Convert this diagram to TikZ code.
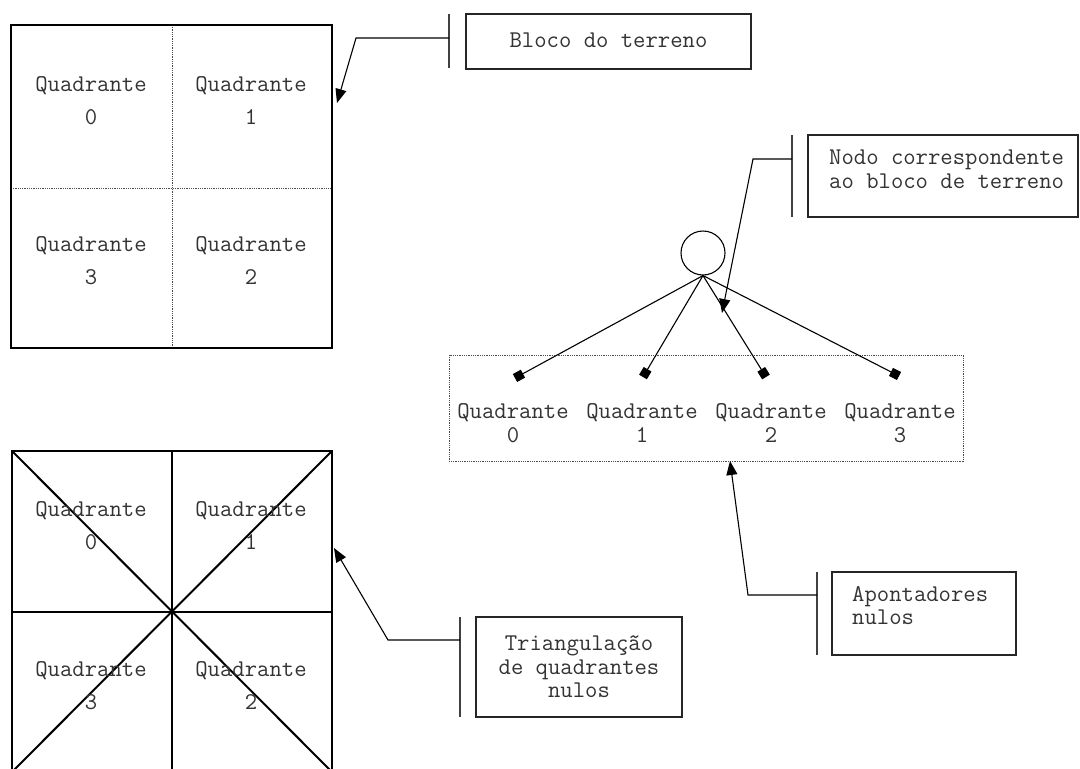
\documentclass[tikz,border=0pt]{standalone}
\usepackage{fontspec}
\usetikzlibrary{arrows.meta}
\begin{document}
\begin{tikzpicture}[x=1pt,y=-1pt,
  font=\ttfamily\fontsize{24}{23.5}\selectfont,
  every node/.style={text=black!80},
  quadlabel/.style={align=center,inner sep=0pt,font=\ttfamily\fontsize{24}{33}\selectfont},
  callout/.style={draw=black!85,line width=1.2pt,inner sep=0pt},
  calloutbar/.style={draw=black!75,line width=1.6pt},
  leader/.style={line width=1.1pt,-{Triangle[length=14pt,width=11pt]}},
  pointer/.style={line width=1.1pt,-{Square[length=9pt,width=9pt]}},
  thinsep/.style={line width=1pt,draw=black!70,dash pattern=on 1pt off 0.8pt},
]
\useasboundingbox (0,0) rectangle (1080,769);

% ---- terrain block split into four quadrants ----
\draw[thinsep] (172,25) -- (172,348);
\draw[thinsep] (11,188) -- (332,188);
\draw[line width=2.6pt] (11,25) rectangle (332,348);
\node[quadlabel] (qa0) at (91,101) {Quadrante\\0};
\node[quadlabel] (qa1) at (251,101) {Quadrante\\1};
\node[quadlabel] (qa3) at (91,261) {Quadrante\\3};
\node[quadlabel] (qa2) at (251,261) {Quadrante\\2};
\coordinate (blocktip) at (337,103);

% ---- callout: terrain block ----
\node[callout,minimum width=285pt,minimum height=55pt] (bloco) at (608.5,41.5) {\raisebox{2pt}{Bloco do terreno}};
\draw[calloutbar] (449,14) -- (449,68);
\coordinate (blocobend) at (356,38);
\draw[leader] (449,38) -- (blocobend) -- (blocktip);

% ---- quadtree node with its four children ----
\node[circle,draw,line width=1.1pt,minimum size=44pt,inner sep=0pt] (root) at (703,253) {};
\draw[thinsep] (449,355) rectangle (963,461);
\coordinate (p0) at (515,378);
\coordinate (p1) at (643,377);
\coordinate (p2) at (766,377);
\coordinate (p3) at (899,376);
\foreach \p in {p0,p1,p2,p3}
  \draw[pointer] (root.south) -- (\p);
\node[align=center,inner sep=0pt] (c0) at (513,423) {Quadrante\\0};
\node[align=center,inner sep=0pt] (c1) at (642,423) {Quadrante\\1};
\node[align=center,inner sep=0pt] (c2) at (771,423) {Quadrante\\2};
\node[align=center,inner sep=0pt] (c3) at (900,423) {Quadrante\\3};

% ---- callout: node of the terrain block ----
\node[callout,minimum width=270pt,minimum height=82pt] (nodo) at (943,176) {};
\node[anchor=north west,align=left,inner sep=0pt] (nodotext) at (829,150) {Nodo correspondente\\ao bloco de terreno};
\draw[calloutbar] (792,135) -- (792,217);
\coordinate (nodobend) at (753,159);
\coordinate (nodotip) at (722,313);
\draw[leader] (792,159) -- (nodobend) -- (nodotip);

% ---- callout: null pointers ----
\node[callout,minimum width=184pt,minimum height=83pt] (apont) at (924,613.5) {};
\node[anchor=north west,align=left,inner sep=0pt] (aponttext) at (852,586) {Apontadores\\nulos};
\draw[calloutbar] (817,572) -- (817,655);
\coordinate (apontbend) at (748,595);
\coordinate (aponttip) at (730,461);
\draw[leader] (817,595) -- (apontbend) -- (aponttip);

% ---- triangulated block ----
\draw[line width=2pt] (172,451) -- (172,772);
\draw[line width=2pt] (12,612) -- (332,612);
\draw[line width=2pt] (12,451) -- (332,772);
\draw[line width=2pt] (332,451) -- (12,772);
\draw[line width=2.6pt] (12,451) rectangle (332,772);
\node[quadlabel] (qb0) at (91,526) {Quadrante\\0};
\node[quadlabel] (qb1) at (251,526) {Quadrante\\1};
\node[quadlabel] (qb3) at (91,686) {Quadrante\\3};
\node[quadlabel] (qb2) at (251,686) {Quadrante\\2};
\coordinate (tritip) at (334,548);

% ---- callout: triangulation ----
\node[callout,minimum width=206pt,minimum height=100pt,align=center] (tri) at (579,667) {Triangulação\\de quadrantes\\nulos};
\draw[calloutbar] (460,617) -- (460,717);
\coordinate (tribend) at (388,640);
\draw[leader] (460,640) -- (tribend) -- (tritip);
\end{tikzpicture}
\end{document}
